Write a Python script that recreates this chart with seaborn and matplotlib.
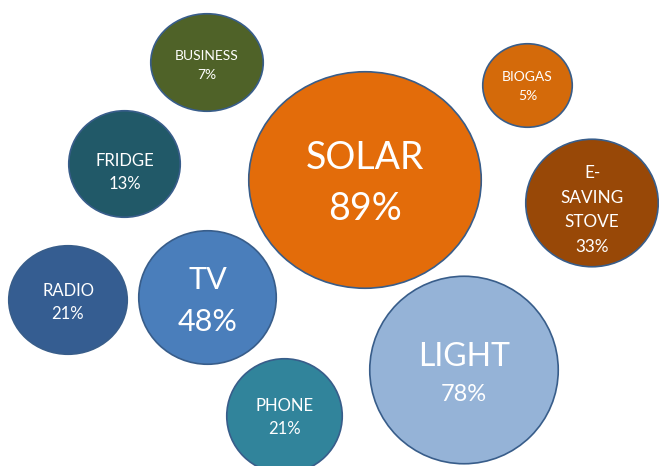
import matplotlib
matplotlib.use("Agg")
import matplotlib.pyplot as plt
from matplotlib.path import Path
from matplotlib.transforms import Affine2D
import seaborn as sns
import pandas as pd

# Labels and shares shown in the bubbles
names = ["SOLAR", "LIGHT", "TV", "E-\nSAVING\nSTOVE", "RADIO", "PHONE", "FRIDGE", "BUSINESS", "BIOGAS"]
shares = [89, 78, 48, 33, 21, 21, 13, 7, 5]

# Bubble centres, widths and heights
x_pos = [365, 464, 207.5, 592, 68, 284.5, 124.5, 207, 527.5]
y_pos = [180, 370, 297.5, 203, 300, 416, 164, 62.5, 85.5]
bubble_w = [234, 190, 139, 134, 120, 117, 113, 114, 91]
bubble_h = [218, 189, 135, 129, 110, 116, 108, 99, 85]

# Fill colour for each bubble
colors = ["#e36c0a", "#95b3d7", "#4a7ebb", "#984807", "#355d91",
          "#31849b", "#215968", "#4f6228", "#d46a0a"]

# Build a small table for seaborn
df = pd.DataFrame({"name": names, "share": shares, "x": x_pos, "y": y_pos,
                   "w": bubble_w, "h": bubble_h})
df["area"] = ((df["w"] - 1.5) * 0.72) ** 2

# One slightly squashed circle marker per bubble
markers = {}
for _, row in df.iterrows():
    ratio = (row["h"] - 1.5) / (row["w"] - 1.5)
    markers[row["name"]] = Path.unit_circle().transformed(Affine2D().scale(1, ratio))

sns.set_style("white")
plt.rcParams["font.family"] = ["Lato", "DejaVu Sans"]

fig = plt.figure(figsize=(6.59, 4.66), dpi=100)
ax = fig.add_axes([0, 0, 1, 1])

# Draw the bubbles
sns.scatterplot(data=df, x="x", y="y", hue="name",
                palette=dict(zip(names, colors)),
                style="name", markers=markers,
                size="area", sizes=(df["area"].min(), df["area"].max()),
                edgecolor="#385d8a", linewidth=1.2, alpha=1,
                legend=False, ax=ax)

# Font sizes for the name line and the share line
name_fs = {"SOLAR": 27, "LIGHT": 23, "TV": 22, "RADIO": 12, "PHONE": 12,
           "FRIDGE": 12, "BUSINESS": 10, "BIOGAS": 10}
pct_fs = {"SOLAR": 27, "LIGHT": 17, "TV": 22, "RADIO": 12, "PHONE": 12,
          "FRIDGE": 12, "BUSINESS": 10, "BIOGAS": 10}
# Small downward nudges of some labels
nudge = {"FRIDGE": 7, "BUSINESS": 2, "LIGHT": 3, "TV": 1, "RADIO": 1}

# Write the labels inside the bubbles
for _, row in df.iterrows():
    pct = f"{row['share']}%"
    if "\n" in row["name"]:
        ax.text(row["x"], row["y"] + 7, row["name"] + "\n" + pct,
                ha="center", va="center", color="white",
                fontsize=12.3, linespacing=1.66)
        continue
    f1 = name_fs[row["name"]]
    f2 = pct_fs[row["name"]]
    gap = 0.69 * (f1 + f2) / 2
    y = row["y"] + nudge.get(row["name"], 0)
    ax.annotate(row["name"], (row["x"], y), xytext=(0, gap),
                textcoords="offset points", ha="center", va="center_baseline",
                color="white", fontsize=f1)
    ax.annotate(pct, (row["x"], y), xytext=(0, -gap),
                textcoords="offset points", ha="center", va="center_baseline",
                color="white", fontsize=f2)

ax.set_xlim(0, 659)
ax.set_ylim(466, 0)
ax.axis("off")

plt.savefig("out.png", dpi=100)
